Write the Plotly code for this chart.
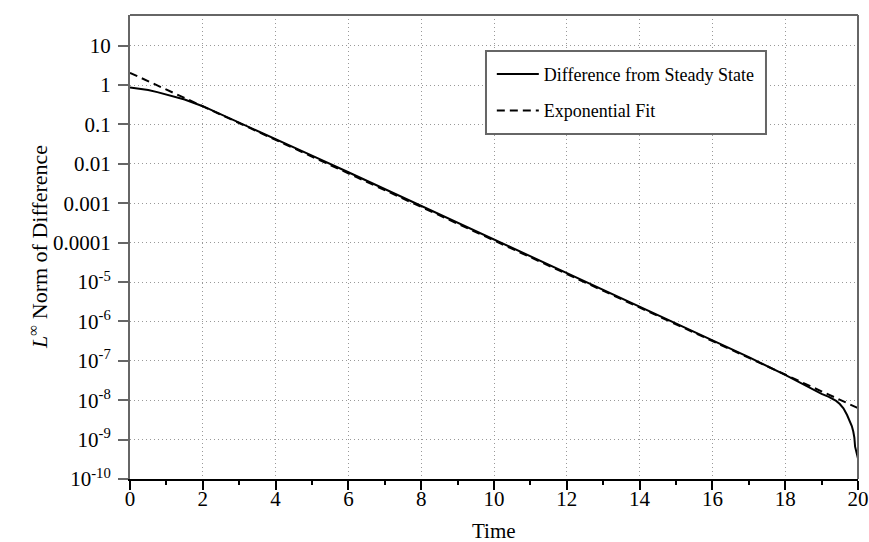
import plotly.graph_objects as go

# Data
diff_t = [0, 0.25, 0.5, 0.75, 1.0, 1.5, 2.0, 2.5, 3, 4, 5, 6, 7, 8, 9, 10, 11, 12, 13, 14,
          15, 16, 17, 18, 18.5, 19, 19.2, 19.3, 19.4, 19.5, 19.6, 19.7, 19.78, 19.83, 19.87,
          19.9, 19.92, 19.95, 20]
diff_y = [0.87, 0.82, 0.75, 0.66, 0.58, 0.43, 0.29, 0.18, 0.112, 0.043, 0.0162, 0.0061,
          0.00229, 8.6e-4, 3.24e-4, 1.22e-4, 4.57e-5, 1.72e-5, 6.46e-6, 2.43e-6,
          9.1e-7, 3.39e-7, 1.245e-7, 4.37e-8, 2.5e-8, 1.45e-8, 1.22e-8, 1.1e-8, 9.6e-9,
          8.0e-9, 6.2e-9, 4.2e-9, 2.9e-9, 2.2e-9, 1.6e-9, 1.12e-9, 6.6e-10, 5.2e-10, 3.3e-10]

fit_t = [0, 20]
fit_y = [2.04, 6.3e-9]

x_ticks = [0, 2, 4, 6, 8, 10, 12, 14, 16, 18, 20]
y_tickvals = [10, 1, 0.1, 0.01, 0.001, 0.0001, 1e-5, 1e-6, 1e-7, 1e-8, 1e-9, 1e-10]
y_ticktext = ["10", "1", "0.1", "0.01", "0.001", "0.0001", "10<sup>-5</sup>",
              "10<sup>-6</sup>", "10<sup>-7</sup>", "10<sup>-8</sup>", "10<sup>-9</sup>",
              "10<sup>-10</sup>"]

FONT = "Liberation Serif"

fig = go.Figure()
fig.add_trace(go.Scatter(x=diff_t, y=diff_y, mode="lines", name="Difference from Steady State",
                         line=dict(color="black", width=2), legendgroup="a"))
fig.add_trace(go.Scatter(x=fit_t, y=fit_y, mode="lines", name="Exponential Fit",
                         line=dict(color="black", width=2, dash="8px,5px"), legendgroup="b"))

fig.update_layout(
    width=869, height=542,
    margin=dict(l=130, r=11, t=15, b=63, autoexpand=False),
    paper_bgcolor="white", plot_bgcolor="white",
    font=dict(family=FONT, size=21, color="black"),
    showlegend=True,
    legend=dict(x=0.497, y=0.912, xanchor="left", yanchor="top",
                bgcolor="rgba(0,0,0,0)", borderwidth=0, itemwidth=42,
                font=dict(family=FONT, size=18, color="black"),
                tracegroupgap=10, traceorder="grouped"),
    xaxis=dict(range=[0, 20], tickvals=x_ticks, ticks="outside", ticklen=9,
               tickcolor="black", tickwidth=2, showline=True, linecolor="black",
               linewidth=2, showgrid=True, gridcolor="#999", griddash="1px,3px",
               gridwidth=1, zeroline=False, ticklabelstandoff=-9, automargin=False,
               tickfont=dict(family=FONT, size=21),
               minor=dict(dtick=1, tick0=0, ticks="outside", ticklen=4,
                          tickcolor="black", tickwidth=2, showgrid=False)),
    yaxis=dict(type="log", range=[-10, 1.777], tickvals=y_tickvals, ticktext=y_ticktext,
               ticks="outside", ticklen=10, tickcolor="#666", tickwidth=2,
               showline=True, linecolor="#666", linewidth=2,
               showgrid=True, gridcolor="#999", griddash="1px,3px", gridwidth=1,
               zeroline=False, ticklabelstandoff=3, automargin=False,
               tickfont=dict(family=FONT, size=21)),
    annotations=[
        dict(text="Time", xref="paper", yref="paper", x=0.5, y=-0.111,
             xanchor="center", yanchor="middle", showarrow=False,
             font=dict(family=FONT, size=21, color="black")),
        dict(text="<i>L</i><sup>∞</sup> Norm of Difference", xref="paper", yref="paper",
             x=-0.1264, y=0.5, xanchor="center", yanchor="middle", textangle=-90,
             showarrow=False, font=dict(family=FONT, size=22, color="black")),
    ],
)

# legend box, top and right frame lines
fig.add_shape(type="rect", xref="paper", yref="paper", x0=0.489, x1=0.8736,
              y0=0.7435, y1=0.9224, layer="above",
              fillcolor="white", line=dict(color="#666", width=2))
fig.add_shape(type="line", xref="paper", yref="paper", x0=0, x1=1, y0=1, y1=1,
              line=dict(color="#666", width=2))
fig.add_shape(type="line", xref="paper", yref="paper", x0=1, x1=1, y0=0, y1=1,
              line=dict(color="#666", width=2))

fig.write_html("out.html")
